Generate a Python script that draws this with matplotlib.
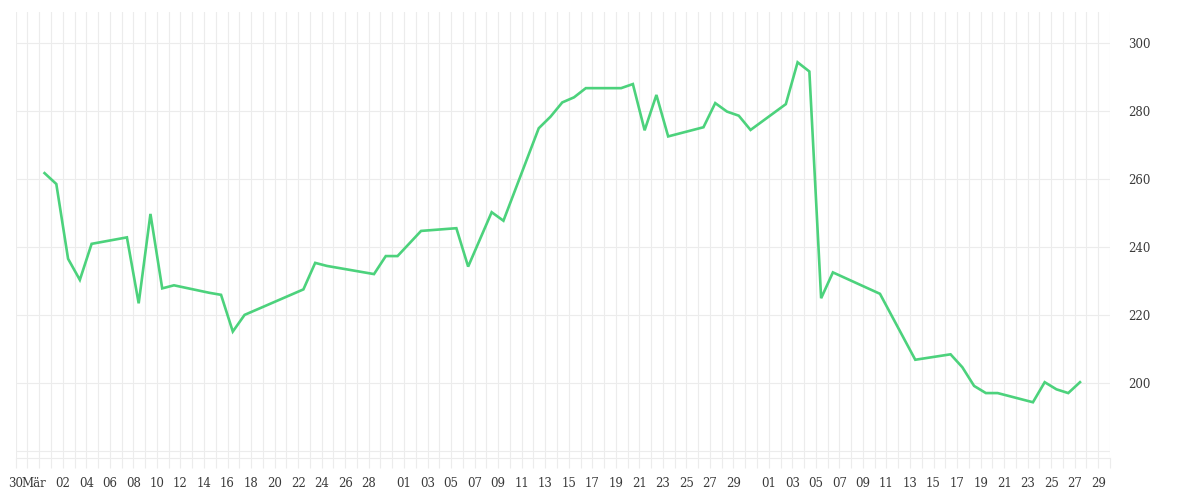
import numpy as np
import matplotlib
matplotlib.use('Agg')
from matplotlib import pyplot as plt

# day index (0 = first grid line)
days = [2, 3, 4, 5, 6, 9, 10, 11, 12, 13, 16, 17, 18, 19, 24, 25, 26, 30, 31, 32,
        34, 37, 38, 39, 40, 41, 44, 45, 46, 47, 48, 51, 52, 53, 54, 55, 58, 59, 60, 61,
        62, 65, 66, 67, 68, 69, 73, 76, 79, 80, 81, 82, 83, 86, 87, 88, 89, 90]
values = [261.8, 258.6, 236.6, 230.4, 241.0, 242.9, 223.5, 249.8, 227.9, 228.8,
          226.6, 226.0, 215.2, 220.1, 227.6, 235.4, 234.5, 232.1, 237.4, 237.4,
          244.8, 245.6, 234.3, 242.3, 250.3, 247.8, 275.0, 278.4, 282.6, 284.1,
          286.8, 286.8, 288.0, 274.4, 284.8, 272.6, 275.3, 282.4, 279.9, 278.7,
          274.5, 282.1, 294.4, 291.7, 225.0, 232.6, 226.3, 206.9, 208.5, 204.7,
          199.2, 197.1, 197.1, 194.4, 200.3, 198.2, 197.1, 200.3]

tick_pos = [0, 1.55] + list(range(4, 31, 2)) + list(range(33, 62, 2)) + list(range(64, 93, 2))
tick_labels = ['30', 'Mär'] + ['%02d' % d for d in range(2, 29, 2)] \
    + ['%02d' % d for d in range(1, 30, 2)] + ['%02d' % d for d in range(1, 30, 2)]

y_ticks = [180, 200, 220, 240, 260, 280, 300]
y_labels = ['', '200', '220', '240', '260', '280', '300']

grid_col = '#ececec'
line_col = '#4cd27c'

fig = plt.figure(figsize=(12, 5), dpi=100)
ax = fig.add_axes([0.0131, 0.084, 0.9119, 0.892])

# points sit a little past midnight on the time axis
ax.plot(np.array(days) + 0.45, values, color=line_col, lw=1.9, solid_joinstyle='miter')

ax.set_xlim(0, 93)
ax.set_ylim(178, 309.2)

ax.xaxis.remove_overlapping_locs = False
ax.set_xticks(tick_pos, tick_labels)
ax.set_xticks(np.arange(0, 94), minor=True)
ax.tick_params(axis='x', which='major', length=0, pad=14, labelsize=8.5, labelcolor='#3a3a3a')
ax.tick_params(axis='x', which='minor', length=7.2, width=0.8, color=grid_col)
ax.grid(True, which='minor', axis='x', color=grid_col, lw=0.8)

ax.yaxis.tick_right()
ax.set_yticks(y_ticks, y_labels)
ax.tick_params(axis='y', length=0, pad=13, labelsize=8.5, labelcolor='#3a3a3a')
ax.grid(True, which='major', axis='y', color=grid_col, lw=0.8)

for lbl in ax.get_xticklabels() + ax.get_yticklabels():
    lbl.set_fontfamily('DejaVu Serif')

for s in ['top', 'left', 'right']:
    ax.spines[s].set_visible(False)
ax.spines['bottom'].set_color(grid_col)
ax.spines['bottom'].set_linewidth(0.8)
ax.set_axisbelow(True)

fig.savefig('out.png')
